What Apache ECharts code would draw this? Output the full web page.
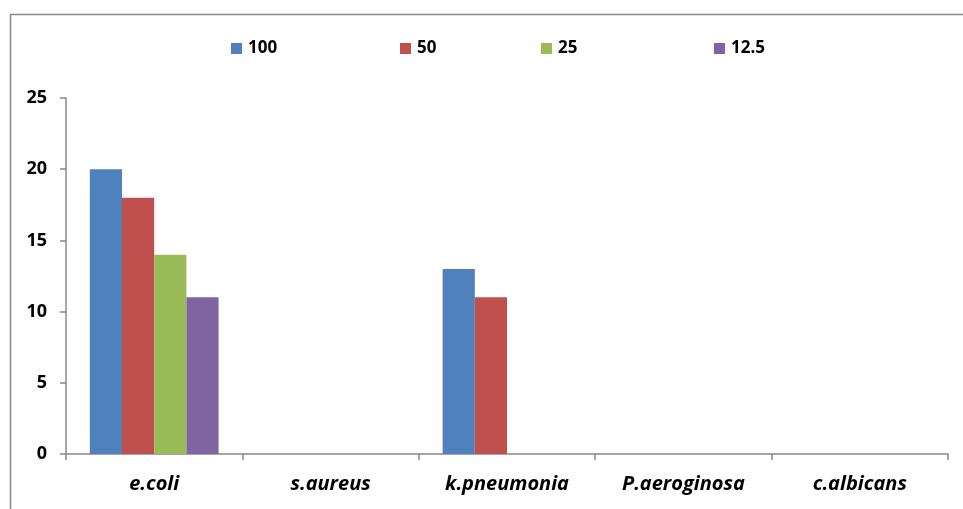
<!DOCTYPE html>
<html><head><meta charset="utf-8">
<script src="https://cdn.jsdelivr.net/npm/echarts@6/dist/echarts.min.js"></script>
<style>html,body{margin:0;padding:0;background:#fff}#c{width:963px;height:509px}</style>
</head><body><div id="c"></div>
<script>
const categories = ['e.coli', 's.aureus', 'k.pneumonia', 'P.aeroginosa', 'c.albicans'];
const seriesNames = ['100', '50', '25', '12.5'];
const s100 = [20, 0, 13, 0, 0];
const s50 = [18, 0, 11, 0, 0];
const s25 = [14, 0, 0, 0, 0];
const s125 = [11, 0, 0, 0, 0];
const yTicks = [0, 5, 10, 15, 20, 25];

const colors = ['#4F81BD', '#C0504D', '#9BBB59', '#8064A2'];
const values = [s100, s50, s25, s125];
const legendLeft = [231, 400, 541, 714];
const font = '"Open Sans", sans-serif';
const chart = echarts.init(document.getElementById('c'));
chart.setOption({
  animation: false,
  graphic: [{type: 'rect', shape: {x: 10.5, y: 14.5, width: 1000, height: 600}, style: {fill: 'none', stroke: '#8c8c8c', lineWidth: 1.5}, silent: true}],
  legend: seriesNames.map((n, i) => ({
    data: [n], left: legendLeft[i], top: 40, itemWidth: 11, itemHeight: 11, itemGap: 0, padding: 0,
    icon: 'rect', textStyle: {fontFamily: font, fontWeight: 'bold', fontSize: 17, color: '#000', padding: [0, 0, 0, 1]}
  })),
  grid: {left: 66, right: 15, top: 98, bottom: 55, containLabel: false},
  xAxis: {
    type: 'category', data: categories,
    axisLine: {lineStyle: {color: '#888', width: 1.5}},
    axisTick: {show: true, length: 6, alignWithLabel: false, lineStyle: {color: '#888', width: 1.5}},
    axisLabel: {fontFamily: font, fontStyle: 'italic', fontWeight: 'bold', fontSize: 20, color: '#000', margin: 20}
  },
  yAxis: {
    type: 'value', min: yTicks[0], max: yTicks[yTicks.length - 1], interval: 5,
    axisLine: {show: true, lineStyle: {color: '#888', width: 1.5}},
    axisTick: {show: true, length: 6, lineStyle: {color: '#888', width: 1.5}},
    splitLine: {show: false},
    axisLabel: {fontFamily: font, fontWeight: 'bold', fontSize: 18, color: '#000', margin: 19}
  },
  series: seriesNames.map((n, i) => ({
    name: n, type: 'bar', data: values[i], barGap: '0%', barCategoryGap: '27%',
    itemStyle: {color: colors[i]}
  }))
});
</script></body></html>
